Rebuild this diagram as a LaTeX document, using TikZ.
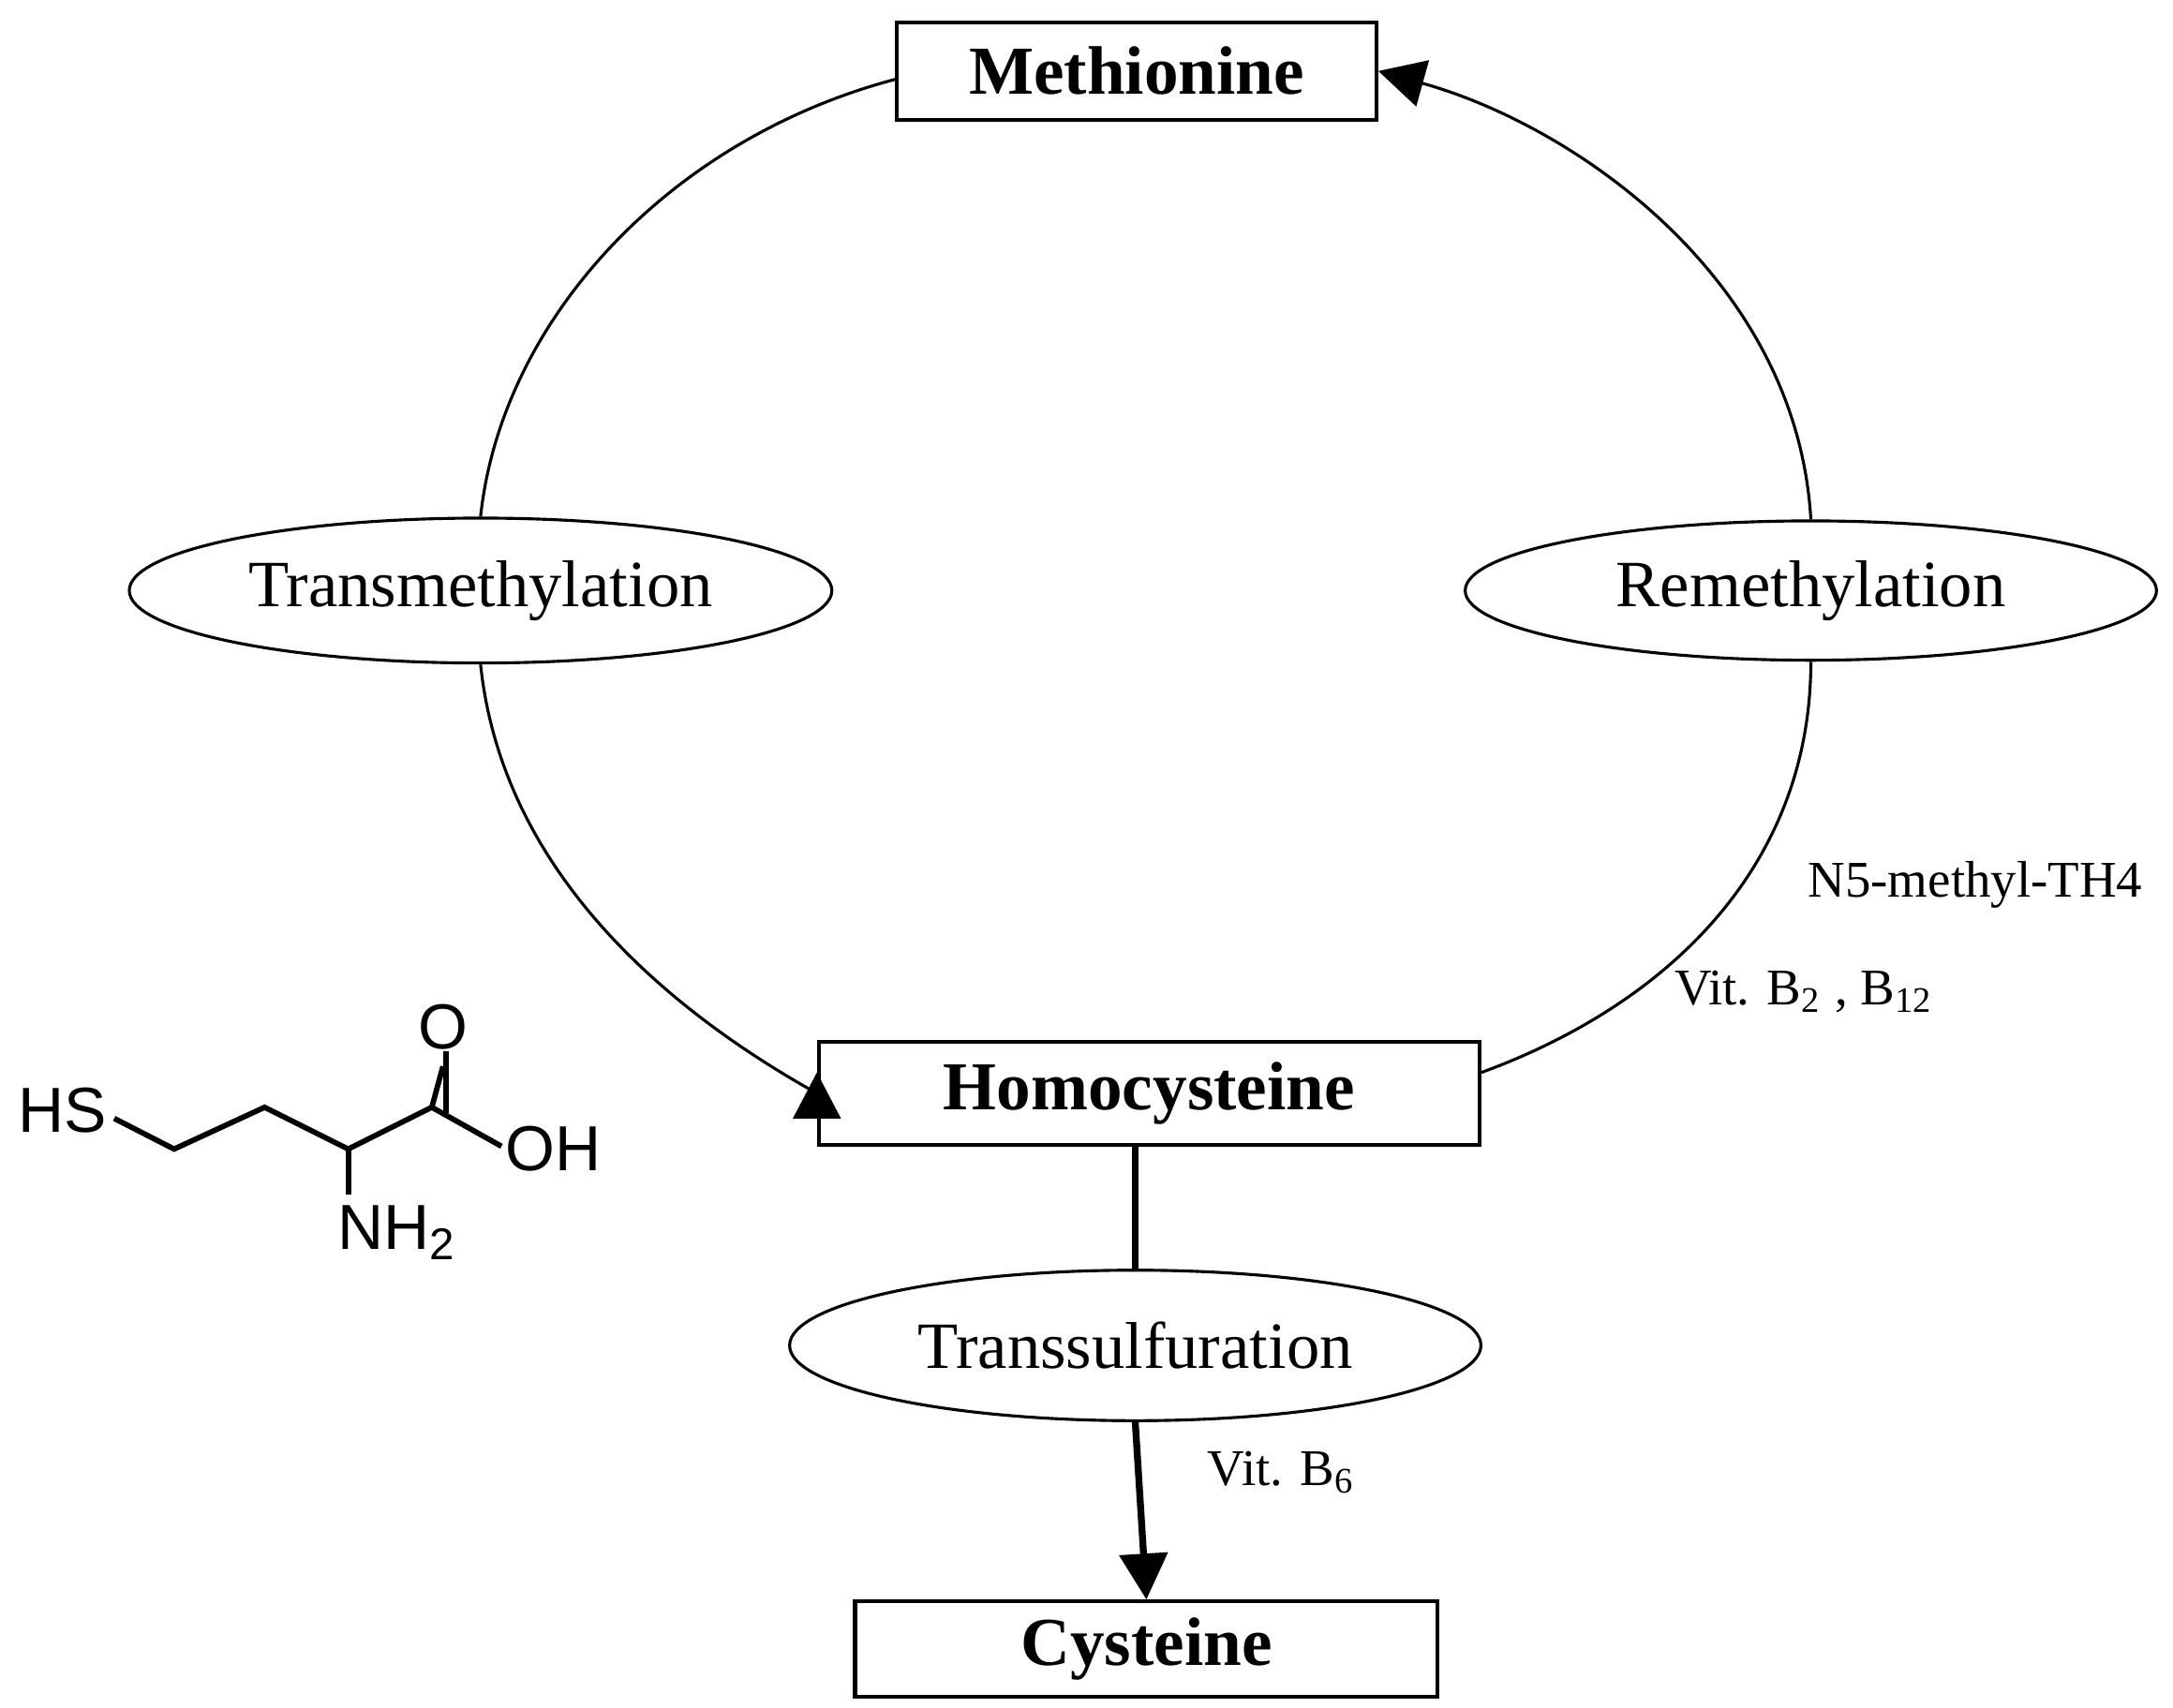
\documentclass[tikz,border=0pt]{standalone}
\usepackage{fontspec}
\setmainfont{Liberation Serif}
\newfontfamily\molfont{Liberation Sans}
\usetikzlibrary{arrows.meta,shapes.geometric}
\begin{document}
\begin{tikzpicture}[x=0.01cm,y=-0.01cm,
 box/.style={draw,line width=0.8pt,minimum height=0.70cm,font=\fontsize{14}{16}\selectfont\bfseries},
 oval/.style={draw,ellipse,line width=0.6pt,minimum width=4.96cm,minimum height=1.04cm,font=\fontsize{13.5}{16}\selectfont},
 conn/.style={line width=0.6pt},
 tip/.style={-{Triangle[length=0.33cm,width=0.34cm]}},
 lbl/.style={font=\fontsize{10.5}{12}\selectfont},
 bond/.style={line width=1.1pt}]
\useasboundingbox (0,0) rectangle (1560,1226);
\node[box,minimum width=3.44cm] (met) at (816,51) {Methionine};
\node[box,minimum width=4.74cm,minimum height=0.74cm] (hcy) at (825,785) {Homocysteine};
\node[box,minimum width=4.18cm,minimum height=0.68cm] (cys) at (823,1184) {Cysteine};
\node[oval] (tm) at (345,424) {Transmethylation};
\node[oval,minimum height=1.0cm] (rm) at (1300,424) {Remethylation};
\node[oval,minimum height=1.08cm] (ts) at (815,966) {Transsulfuration};
\draw[conn] (met.west) ++(0,6) .. controls (480,100) and (360,230) .. (tm.north);
\draw[conn,tip] (tm.south) .. controls (360,620) and (470,720) .. (hcy.west) ++(0,-15);
\draw[conn,tip] (rm.north) .. controls (1290,200) and (1130,90) .. (met.east);
\draw[conn] (rm.south) .. controls (1300,620) and (1200,720) .. ([yshift=0.15cm]hcy.east);
\draw[line width=1.4pt] (hcy.south -| ts.north) -- (ts.north);
\draw[line width=1.4pt,tip] (ts.south) -- (cys.north);
\node[lbl] (n5) at (1418,635) {N5-methyl-TH4};
\node[lbl] (vb) at (1295,712) {Vit. B\textsubscript{2} , B\textsubscript{12}};
\node[lbl] (v6) at (920,1057) {Vit. B\textsubscript{6}};
% molecule
\begin{scope}[font=\molfont\fontsize{13}{15}\selectfont]
\node (hs) at (45,797) {HS};
\node (o) at (318,737) {O};
\node (oh) at (397,825) {OH};
\node (nh) at (285,885) {NH\textsubscript{2}};
\coordinate (c1) at (125,825);
\coordinate (c2) at (190,795);
\coordinate (c3) at (250,825);
\coordinate (c4) at (310,795);
\draw[bond] (82,803) -- (c1) -- (c2) -- (c3) -- (c4) -- (360,823);
\draw[bond] (c3) -- (250,858);
\draw[bond] (c4) -- (o.south);
\draw[bond] (320,799) -- (320,755);
\end{scope}
\end{tikzpicture}
\end{document}
